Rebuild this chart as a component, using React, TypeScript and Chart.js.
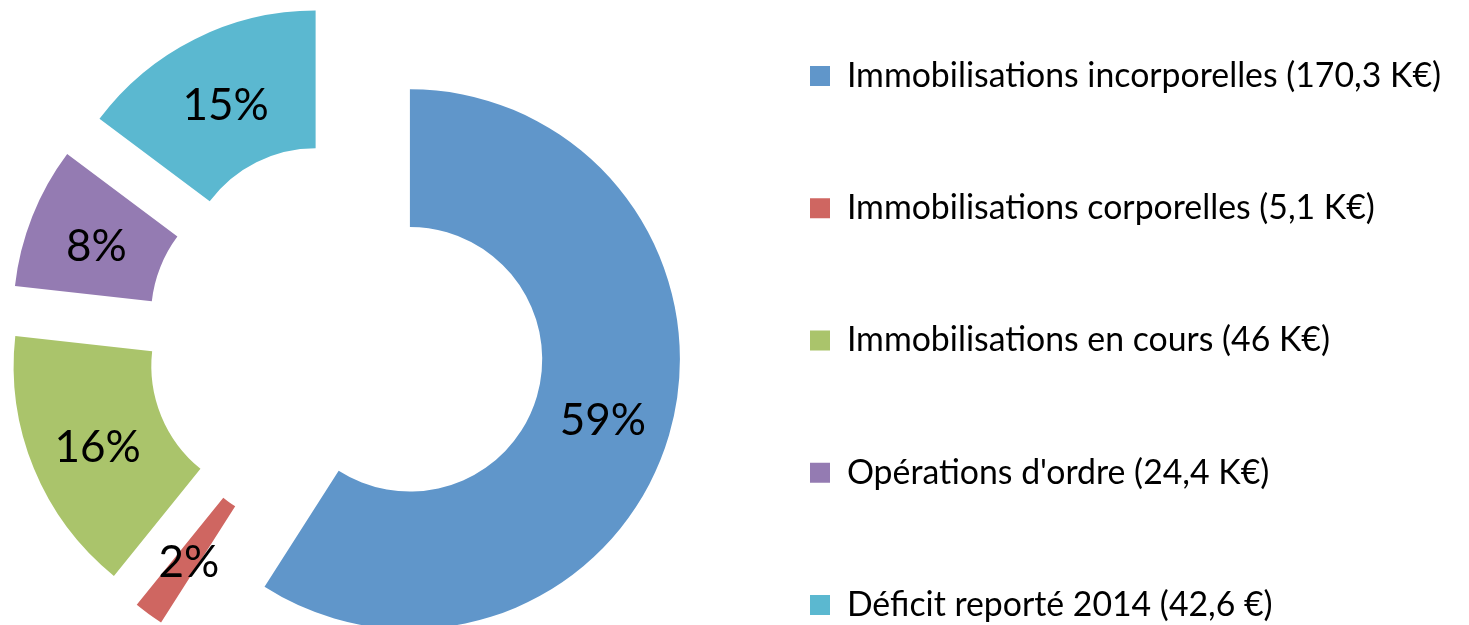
import React, { useEffect, useRef } from 'react';
import { Chart, registerables } from 'chart.js';

Chart.register(...registerables);

const categories = [
  'Immobilisations incorporelles (170,3 K€)',
  'Immobilisations corporelles (5,1 K€)',
  'Immobilisations en cours (46 K€)',
  "Opérations d'ordre (24,4 K€)",
  'Déficit reporté 2014 (42,6 €)',
];
const values = [170.3, 5.1, 46, 24.4, 42.6];
const colors = ['#6096CA', '#CF6661', '#AAC46B', '#947BB2', '#5BB8D0'];

const EXPLODE = 67;
const FONT = 'Lato';
// canvas is larger than the visible frame and shifted so the legend can hold 5 rows
const SHIFT_X = 21;
const SHIFT_Y = 41;
const CANVAS_W = 1490;
const CANVAS_H = 763;

export default function App() {
  const ref = useRef<HTMLCanvasElement>(null);

  useEffect(() => {
    document.body.style.margin = '0';
    const total = values.reduce((a, b) => a + b, 0);

    const explodePlugin = {
      id: 'explodeDraw',
      beforeDatasetDraw(chart: any, args: any) {
        const ctx = chart.ctx;
        args.meta.data.forEach((arc: any) => {
          const mid = (arc.startAngle + arc.endAngle) / 2;
          ctx.save();
          ctx.translate(Math.cos(mid) * EXPLODE, Math.sin(mid) * EXPLODE);
          arc.draw(ctx, chart.chartArea);
          ctx.restore();
        });
        return false;
      },
      afterDatasetsDraw(chart: any) {
        const ctx = chart.ctx;
        const meta = chart.getDatasetMeta(0);
        ctx.save();
        ctx.font = `44px ${FONT}`;
        ctx.fillStyle = '#000';
        ctx.textAlign = 'center';
        ctx.textBaseline = 'middle';
        meta.data.forEach((arc: any, i: number) => {
          const mid = (arc.startAngle + arc.endAngle) / 2;
          const p = arc.tooltipPosition(false);
          const x = p.x + Math.cos(mid) * EXPLODE;
          const y = p.y + Math.sin(mid) * EXPLODE + 5;
          const pct = Math.round((values[i] / total) * 100) + '%';
          ctx.fillText(pct, x, y);
        });
        ctx.restore();
      },
    };

    const chart = new Chart(ref.current as HTMLCanvasElement, {
      type: 'doughnut',
      data: {
        labels: categories,
        datasets: [
          {
            data: values,
            backgroundColor: colors,
            borderWidth: 0,
          },
        ],
      },
      options: {
        animation: false,
        responsive: false,
        maintainAspectRatio: false,
        radius: 270,
        cutout: '49%',
        layout: { padding: { left: 0.6, right: 25.4, top: 0, bottom: 0 } },
        plugins: {
          legend: {
            position: 'right',
            align: 'center',
            labels: {
              boxWidth: 20,
              boxHeight: 20,
              padding: 98.4,
              color: '#000',
              font: { family: FONT, size: 33.8 },
            },
          },
          tooltip: { enabled: false },
        },
      } as any,
      plugins: [explodePlugin],
    });

    return () => chart.destroy();
  }, []);

  return (
    <div
      style={{
        position: 'fixed',
        left: 0,
        top: 0,
        width: 1469,
        height: 625,
        overflow: 'hidden',
        background: '#fff',
      }}
    >
      <canvas
        ref={ref}
        width={CANVAS_W}
        height={CANVAS_H}
        style={{ position: 'absolute', left: -SHIFT_X, top: -SHIFT_Y, display: 'block' }}
      />
    </div>
  );
}
